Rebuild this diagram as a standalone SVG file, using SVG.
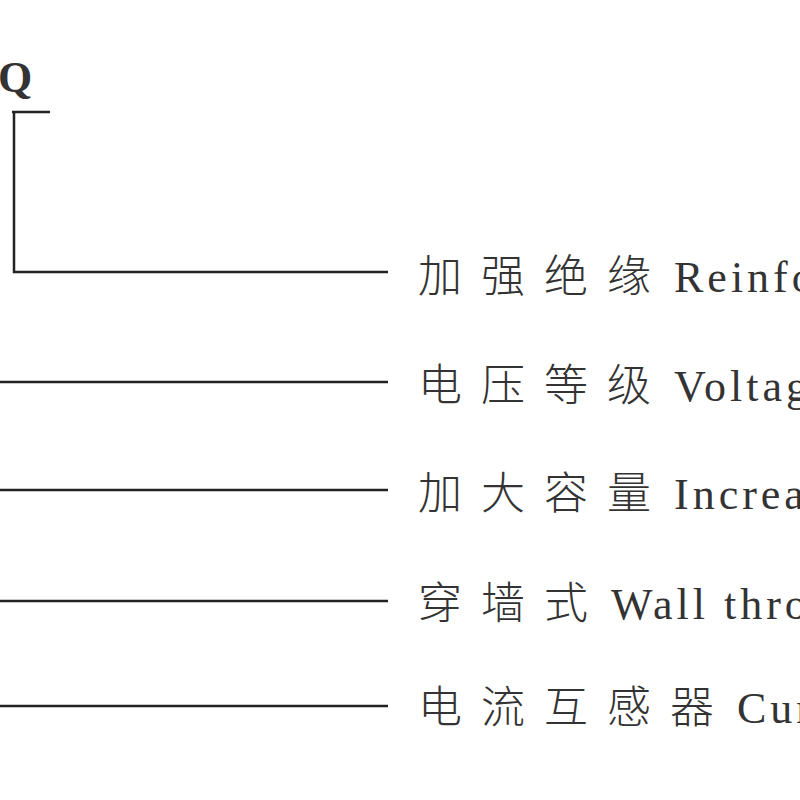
<svg xmlns="http://www.w3.org/2000/svg" width="800" height="800" viewBox="0 0 800 800">
<style>
.l{stroke:#222;stroke-width:2.5;fill:none}
.t{font-family:"Liberation Serif","Noto Sans CJK SC",serif;font-size:44px;fill:#333;letter-spacing:4px}
.c{letter-spacing:19px;font-weight:300}
</style>
<rect width="800" height="800" fill="#fff"/>
<g id="connectors">
<path class="l" d="M12 112H50M14 112V272H388"/>
<path class="l" d="M0 382H388"/>
<path class="l" d="M0 490H388"/>
<path class="l" d="M0 601H388"/>
<path class="l" d="M0 706H388"/>
</g>
<g id="q"><text class="t" x="-2" y="92" font-weight="bold" font-size="46">Q</text></g>
<g id="n1"><text class="t" x="418" y="292"><tspan class="c">加强绝缘</tspan><tspan dx="4">Reinforced</tspan></text></g>
<g id="n2"><text class="t" x="418" y="401"><tspan class="c">电压等级</tspan><tspan dx="4">Voltage</tspan></text></g>
<g id="n3"><text class="t" x="418" y="509"><tspan class="c">加大容量</tspan><tspan dx="4">Increased</tspan></text></g>
<g id="n4"><text class="t" x="418" y="619"><tspan class="c">穿墙式</tspan><tspan dx="4">Wall through</tspan></text></g>
<g id="n5"><text class="t" x="418" y="723"><tspan class="c">电流互感器</tspan><tspan dx="4">Current</tspan></text></g>
</svg>
